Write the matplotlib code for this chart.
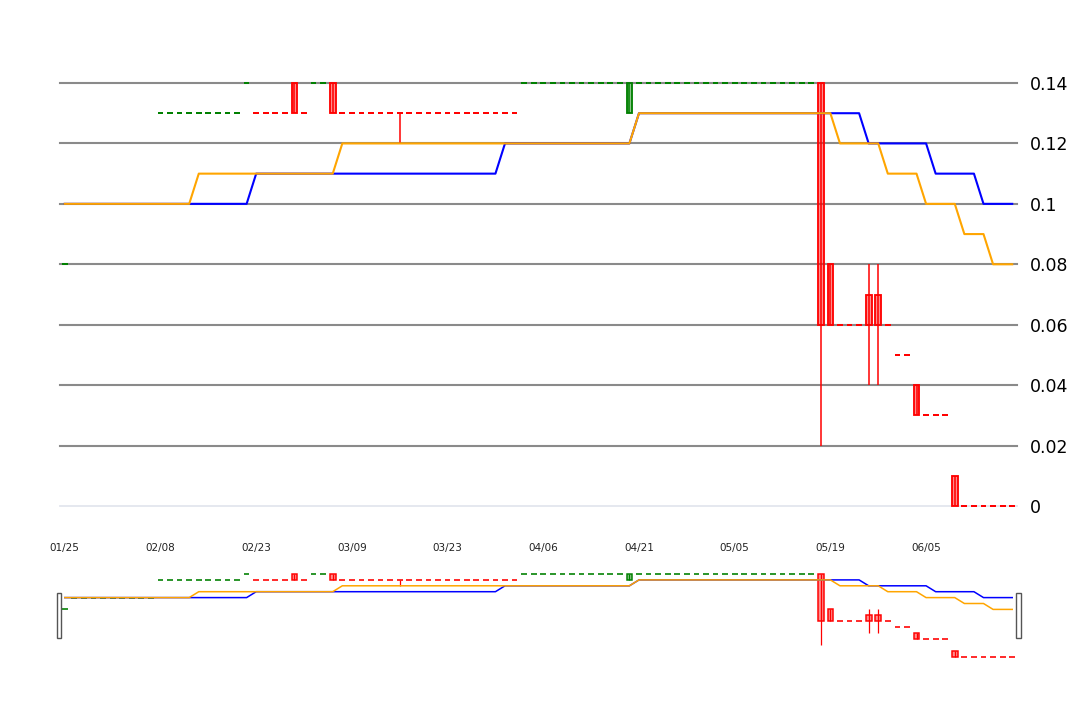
import matplotlib
matplotlib.use("Agg")
import matplotlib.pyplot as plt
from matplotlib.patches import Rectangle

# category axis (one entry per candle)
dates = [
    "01/25", "01/26", "01/27", "01/28", "01/29", "02/01", "02/02", "02/03", "02/04", "02/05",
    "02/08", "02/09", "02/10", "02/11", "02/12", "02/16", "02/17", "02/18", "02/19", "02/22",
    "02/23", "02/24", "02/25", "02/26", "03/01", "03/02", "03/03", "03/04", "03/05", "03/08",
    "03/09", "03/10", "03/11", "03/12", "03/15", "03/16", "03/17", "03/18", "03/19", "03/22",
    "03/23", "03/24", "03/25", "03/26", "03/29", "03/30", "03/31", "04/01", "04/02", "04/05",
    "04/06", "04/07", "04/08", "04/09", "04/12", "04/13", "04/14", "04/15", "04/16", "04/19",
    "04/21", "04/22", "04/23", "04/26", "04/27", "04/28", "04/29", "04/30", "05/03", "05/04",
    "05/05", "05/06", "05/07", "05/10", "05/11", "05/12", "05/13", "05/14", "05/17", "05/18",
    "05/19", "05/20", "05/21", "05/24", "05/25", "05/26", "05/27", "05/28", "06/01", "06/02",
    "06/05", "06/07", "06/08", "06/09", "06/10", "06/11", "06/14", "06/15", "06/16", "06/17",
]

open_ = [
    0.08, 0.10, 0.10, 0.10, 0.10, 0.10, 0.10, 0.10, 0.10, 0.10,
    0.13, 0.13, 0.13, 0.13, 0.13, 0.13, 0.13, 0.13, 0.13, 0.14,
    0.13, 0.13, 0.13, 0.13, 0.14, 0.13, 0.14, 0.14, 0.14, 0.13,
    0.13, 0.13, 0.13, 0.13, 0.13, 0.13, 0.13, 0.13, 0.13, 0.13,
    0.13, 0.13, 0.13, 0.13, 0.13, 0.13, 0.13, 0.13, 0.14, 0.14,
    0.14, 0.14, 0.14, 0.14, 0.14, 0.14, 0.14, 0.14, 0.14, 0.13,
    0.14, 0.14, 0.14, 0.14, 0.14, 0.14, 0.14, 0.14, 0.14, 0.14,
    0.14, 0.14, 0.14, 0.14, 0.14, 0.14, 0.14, 0.14, 0.14, 0.14,
    0.08, 0.06, 0.06, 0.06, 0.07, 0.07, 0.06, 0.05, 0.05, 0.04,
    0.03, 0.03, 0.03, 0.01, 0.00, 0.00, 0.00, 0.00, 0.00, 0.00,
]
close = [
    0.08, 0.10, 0.10, 0.10, 0.10, 0.10, 0.10, 0.10, 0.10, 0.10,
    0.13, 0.13, 0.13, 0.13, 0.13, 0.13, 0.13, 0.13, 0.13, 0.14,
    0.13, 0.13, 0.13, 0.13, 0.13, 0.13, 0.14, 0.14, 0.13, 0.13,
    0.13, 0.13, 0.13, 0.13, 0.13, 0.13, 0.13, 0.13, 0.13, 0.13,
    0.13, 0.13, 0.13, 0.13, 0.13, 0.13, 0.13, 0.13, 0.14, 0.14,
    0.14, 0.14, 0.14, 0.14, 0.14, 0.14, 0.14, 0.14, 0.14, 0.14,
    0.14, 0.14, 0.14, 0.14, 0.14, 0.14, 0.14, 0.14, 0.14, 0.14,
    0.14, 0.14, 0.14, 0.14, 0.14, 0.14, 0.14, 0.14, 0.14, 0.06,
    0.06, 0.06, 0.06, 0.06, 0.06, 0.06, 0.06, 0.05, 0.05, 0.03,
    0.03, 0.03, 0.03, 0.00, 0.00, 0.00, 0.00, 0.00, 0.00, 0.00,
]
low = [
    0.08, 0.10, 0.10, 0.10, 0.10, 0.10, 0.10, 0.10, 0.10, 0.10,
    0.13, 0.13, 0.13, 0.13, 0.13, 0.13, 0.13, 0.13, 0.13, 0.14,
    0.13, 0.13, 0.13, 0.13, 0.13, 0.13, 0.14, 0.14, 0.13, 0.13,
    0.13, 0.13, 0.13, 0.13, 0.13, 0.12, 0.13, 0.13, 0.13, 0.13,
    0.13, 0.13, 0.13, 0.13, 0.13, 0.13, 0.13, 0.13, 0.14, 0.14,
    0.14, 0.14, 0.14, 0.14, 0.14, 0.14, 0.14, 0.14, 0.14, 0.13,
    0.14, 0.14, 0.14, 0.14, 0.14, 0.14, 0.14, 0.14, 0.14, 0.14,
    0.14, 0.14, 0.14, 0.14, 0.14, 0.14, 0.14, 0.14, 0.14, 0.02,
    0.06, 0.06, 0.06, 0.06, 0.04, 0.04, 0.06, 0.05, 0.05, 0.03,
    0.03, 0.03, 0.03, 0.00, 0.00, 0.00, 0.00, 0.00, 0.00, 0.00,
]
high = [
    0.08, 0.10, 0.10, 0.10, 0.10, 0.10, 0.10, 0.10, 0.10, 0.10,
    0.13, 0.13, 0.13, 0.13, 0.13, 0.13, 0.13, 0.13, 0.13, 0.14,
    0.13, 0.13, 0.13, 0.13, 0.14, 0.13, 0.14, 0.14, 0.14, 0.13,
    0.13, 0.13, 0.13, 0.13, 0.13, 0.13, 0.13, 0.13, 0.13, 0.13,
    0.13, 0.13, 0.13, 0.13, 0.13, 0.13, 0.13, 0.13, 0.14, 0.14,
    0.14, 0.14, 0.14, 0.14, 0.14, 0.14, 0.14, 0.14, 0.14, 0.14,
    0.14, 0.14, 0.14, 0.14, 0.14, 0.14, 0.14, 0.14, 0.14, 0.14,
    0.14, 0.14, 0.14, 0.14, 0.14, 0.14, 0.14, 0.14, 0.14, 0.14,
    0.08, 0.06, 0.06, 0.06, 0.08, 0.08, 0.06, 0.05, 0.05, 0.04,
    0.03, 0.03, 0.03, 0.01, 0.00, 0.00, 0.00, 0.00, 0.00, 0.00,
]

blue_line = [
    0.10, 0.10, 0.10, 0.10, 0.10, 0.10, 0.10, 0.10, 0.10, 0.10,
    0.10, 0.10, 0.10, 0.10, 0.10, 0.10, 0.10, 0.10, 0.10, 0.10,
    0.11, 0.11, 0.11, 0.11, 0.11, 0.11, 0.11, 0.11, 0.11, 0.11,
    0.11, 0.11, 0.11, 0.11, 0.11, 0.11, 0.11, 0.11, 0.11, 0.11,
    0.11, 0.11, 0.11, 0.11, 0.11, 0.11, 0.12, 0.12, 0.12, 0.12,
    0.12, 0.12, 0.12, 0.12, 0.12, 0.12, 0.12, 0.12, 0.12, 0.12,
    0.13, 0.13, 0.13, 0.13, 0.13, 0.13, 0.13, 0.13, 0.13, 0.13,
    0.13, 0.13, 0.13, 0.13, 0.13, 0.13, 0.13, 0.13, 0.13, 0.13,
    0.13, 0.13, 0.13, 0.13, 0.12, 0.12, 0.12, 0.12, 0.12, 0.12,
    0.12, 0.11, 0.11, 0.11, 0.11, 0.11, 0.10, 0.10, 0.10, 0.10,
]
orange_line = [
    0.10, 0.10, 0.10, 0.10, 0.10, 0.10, 0.10, 0.10, 0.10, 0.10,
    0.10, 0.10, 0.10, 0.10, 0.11, 0.11, 0.11, 0.11, 0.11, 0.11,
    0.11, 0.11, 0.11, 0.11, 0.11, 0.11, 0.11, 0.11, 0.11, 0.12,
    0.12, 0.12, 0.12, 0.12, 0.12, 0.12, 0.12, 0.12, 0.12, 0.12,
    0.12, 0.12, 0.12, 0.12, 0.12, 0.12, 0.12, 0.12, 0.12, 0.12,
    0.12, 0.12, 0.12, 0.12, 0.12, 0.12, 0.12, 0.12, 0.12, 0.12,
    0.13, 0.13, 0.13, 0.13, 0.13, 0.13, 0.13, 0.13, 0.13, 0.13,
    0.13, 0.13, 0.13, 0.13, 0.13, 0.13, 0.13, 0.13, 0.13, 0.13,
    0.13, 0.12, 0.12, 0.12, 0.12, 0.12, 0.11, 0.11, 0.11, 0.11,
    0.10, 0.10, 0.10, 0.10, 0.09, 0.09, 0.09, 0.08, 0.08, 0.08,
]

y_ticks = [0, 0.02, 0.04, 0.06, 0.08, 0.1, 0.12, 0.14]
y_labels = ["0", "0.02", "0.04", "0.06", "0.08", "0.1", "0.12", "0.14"]

UP = "#008000"
DOWN = "#ff0000"
W, H = 1080, 720


def candle_colors(o, c):
    # doji takes direction from previous close, otherwise keeps previous direction
    cols, sign, prev = [], 1, None
    for oi, ci in zip(o, c):
        if ci > oi:
            sign = 1
        elif ci < oi:
            sign = -1
        elif prev is not None and ci != prev:
            sign = 1 if ci > prev else -1
        cols.append(UP if sign > 0 else DOWN)
        prev = ci
    return cols


def draw_series(ax, lw_line, lw_candle, bw):
    colors = candle_colors(open_, close)
    for i, (o, c, lo, hi) in enumerate(zip(open_, close, low, high)):
        col = colors[i]
        if hi > lo:
            ax.vlines(i, lo, hi, color=col, lw=lw_candle, zorder=2, clip_on=False)
        if o == c:
            ax.hlines(c, i - bw / 2, i + bw / 2, color=col, lw=lw_candle * 1.3,
                      zorder=2, clip_on=False)
        else:
            ax.add_patch(Rectangle((i - bw / 2, min(o, c)), bw, abs(c - o),
                                   facecolor=col, alpha=0.45, lw=0, zorder=2.1,
                                   clip_on=False))
            ax.add_patch(Rectangle((i - bw / 2, min(o, c)), bw, abs(c - o),
                                   facecolor="none", edgecolor=col, lw=lw_candle * 1.2,
                                   zorder=2.2, clip_on=False))
    x = range(len(blue_line))
    ax.plot(x, blue_line, color="blue", lw=lw_line, zorder=3, clip_on=False)
    ax.plot(x, orange_line, color="orange", lw=lw_line, zorder=4, clip_on=False)
    ax.set_xlim(-0.5, len(dates) - 0.5)
    ax.set_ylim(0, 0.14)
    for s in ax.spines.values():
        s.set_visible(False)


fig = plt.figure(figsize=(W / 100, H / 100), dpi=100)

# main chart
ax = fig.add_axes([60 / W, (H - 506) / H, 957 / W, 423 / H])
for v in y_ticks:
    if v == 0:
        ax.axhline(v, color="#e3e6ee", lw=1.3, zorder=1, clip_on=False)
    else:
        ax.axhline(v, color="#8a8a8a", lw=1.5, zorder=1, clip_on=False)
draw_series(ax, 1.5, 1.1, 0.6)
ax.yaxis.tick_right()
ax.set_yticks(y_ticks)
ax.set_yticklabels(y_labels, fontsize=12.5, color="black")
ax.set_xticks(range(0, len(dates), 10))
ax.set_xticklabels(dates[::10], fontsize=7.5, color="#222222")
ax.tick_params(axis="y", length=0, pad=9.5)
ax.tick_params(axis="x", length=0, pad=26.5)

# slider preview
ax2 = fig.add_axes([60 / W, (H - 656.6) / H, 957 / W, 82.6 / H])
draw_series(ax2, 1.1, 0.9, 0.6)
ax2.set_xticks([])
ax2.set_yticks([])
ax2.patch.set_alpha(0)

# slider handles
for hx in (56.7, 1016.3):
    fig.patches.append(Rectangle((hx / W, (H - 638.3) / H), 4.4 / W, 45 / H,
                                 transform=fig.transFigure, facecolor="white",
                                 edgecolor="#555555", lw=1.0, zorder=5))

fig.savefig("out.png", dpi=100)
